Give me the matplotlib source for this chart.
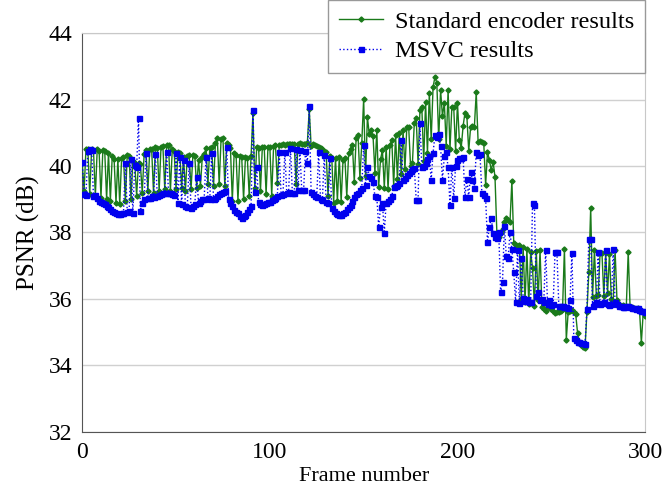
import matplotlib.pyplot as plt

plt.rcParams['font.family'] = ['Liberation Serif', 'DejaVu Serif']

# PSNR per frame (frames 0..300)
standard = [
    40.10, 39.25, 40.50, 40.52, 39.15, 40.50, 40.48, 39.10, 40.50, 40.45,
    39.05, 40.48, 40.45, 39.00, 40.40, 38.95, 40.30, 40.20, 38.90, 40.20,
    38.85, 40.25, 40.28, 38.95, 40.33, 40.30, 39.00, 40.15, 40.10, 39.10,
    40.10, 40.05, 39.20, 40.35, 40.48, 39.25, 40.50, 40.52, 39.20, 40.57,
    40.55, 39.25, 40.58, 40.60, 39.30, 40.62, 40.63, 39.25, 40.50, 40.45,
    39.30, 40.42, 40.40, 39.35, 40.27, 39.25, 40.30, 40.33, 39.30, 40.33,
    40.30, 39.35, 40.18, 39.40, 40.27, 40.35, 40.54, 39.45, 40.55, 40.57,
    39.40, 40.70, 40.84, 39.45, 40.80, 40.84, 39.40, 40.70, 40.63, 40.54,
    38.95, 40.40, 40.33, 38.95, 40.30, 40.27, 39.00, 40.27, 40.25, 39.10,
    40.30, 41.60, 39.35, 40.57, 40.55, 39.25, 40.57, 40.58, 39.15, 40.57,
    40.58, 39.10, 40.60, 40.62, 39.50, 40.62, 40.63, 40.65, 40.63, 40.65,
    40.66, 40.65, 40.67, 40.66, 39.45, 40.66, 40.68, 40.66, 40.67, 40.65,
    40.70, 41.70, 40.60, 40.65, 40.63, 40.60, 40.58, 40.54, 40.50, 40.45,
    40.42, 39.10, 40.30, 40.25, 38.90, 40.24, 38.95, 40.27, 38.92, 40.18,
    40.25, 39.07, 40.39, 40.50, 40.63, 39.52, 40.85, 40.93, 39.64, 40.69,
    42.02, 39.70, 41.47, 40.95, 41.08, 40.90, 39.80, 41.08, 39.37, 40.20,
    40.48, 39.35, 40.57, 39.30, 40.63, 40.78, 39.40, 40.93, 39.60, 41.00,
    39.75, 41.08, 39.90, 41.17, 41.17, 40.00, 40.10, 41.30, 41.44, 40.05,
    41.68, 41.77, 40.15, 41.92, 40.40, 42.20, 40.80, 42.38, 42.68, 42.50,
    40.80, 42.28, 41.50, 41.90, 40.60, 42.28, 40.50, 41.77, 41.77, 40.45,
    41.90, 40.78, 40.55, 41.20, 41.60, 41.50, 40.45, 41.17, 41.20, 41.17,
    42.22, 40.72, 40.75, 40.72, 40.70, 39.43, 40.42, 40.18, 39.88, 40.12,
    39.67, 37.98, 37.86, 37.98, 38.10, 38.30, 38.44, 38.38, 38.32, 39.55,
    37.68, 37.62, 37.60, 37.62, 36.00, 37.56, 35.90, 37.50, 35.85, 37.41,
    36.93, 35.80, 37.45, 35.97, 37.47, 35.75, 35.70, 35.65, 35.80, 35.76,
    35.70, 35.65, 35.58, 35.60, 35.62, 35.65, 35.70, 37.50, 34.77, 35.61,
    35.65, 35.68, 35.60, 35.55, 34.98, 34.70, 34.60, 34.56, 34.53, 35.61,
    36.80, 38.74, 36.06, 37.47, 36.10, 36.12, 37.38, 37.38, 36.10, 37.40,
    36.18, 37.35, 36.00, 35.95, 37.47, 35.97, 35.85, 35.80, 35.82, 35.78,
    35.80, 37.41, 35.76, 35.75, 35.72, 35.70, 35.72, 35.68, 34.68, 35.60,
    35.50,
]

msvc = [
    40.12, 39.15, 39.13, 40.45, 40.50, 40.48, 39.10, 39.13, 39.05, 38.95,
    38.92, 38.90, 38.85, 38.80, 38.78, 38.70, 38.65, 38.62, 38.58, 38.55,
    38.55, 38.58, 38.60, 40.10, 38.62, 38.65, 40.20, 38.60, 40.03, 39.97,
    41.44, 38.65, 38.90, 39.00, 40.39, 39.04, 39.05, 39.10, 39.08, 40.36,
    39.10, 39.13, 39.15, 39.18, 39.20, 40.42, 39.20, 39.18, 39.15, 39.13,
    40.39, 38.89, 40.27, 38.85, 40.18, 38.80, 38.78, 40.09, 38.75, 38.80,
    38.85, 39.67, 38.90, 38.95, 39.00, 39.02, 40.27, 39.04, 39.02, 40.39,
    39.00, 39.05, 39.10, 39.15, 39.20, 39.22, 39.25, 40.57, 39.00, 38.89,
    38.80, 38.68, 38.62, 38.59, 38.50, 38.44, 38.48, 38.53, 38.62, 38.70,
    38.80, 41.68, 39.22, 39.97, 38.92, 38.85, 38.83, 38.85, 38.88, 38.92,
    38.92, 38.98, 39.02, 39.04, 39.10, 40.42, 39.13, 39.15, 40.42, 39.20,
    39.22, 40.54, 39.20, 39.19, 40.50, 39.28, 40.48, 39.28, 39.28, 40.45,
    40.09, 41.80, 39.22, 39.15, 39.10, 39.07, 40.42, 39.02, 38.98, 40.33,
    38.92, 38.89, 40.24, 38.74, 38.65, 38.59, 38.55, 38.53, 38.53, 38.58,
    38.62, 38.70, 38.78, 38.83, 38.95, 39.07, 39.15, 39.20, 39.28, 39.35,
    40.63, 39.43, 39.97, 39.70, 39.64, 39.52, 39.10, 39.08, 38.17, 38.77,
    38.90, 37.98, 38.90, 38.95, 39.00, 39.10, 39.37, 39.40, 39.43, 39.50,
    40.78, 39.58, 39.65, 39.73, 39.79, 39.85, 39.90, 39.94, 38.98, 38.98,
    41.29, 39.97, 40.00, 40.10, 40.20, 40.30, 39.58, 40.40, 40.93, 40.87,
    40.96, 40.60, 39.58, 40.30, 40.42, 39.97, 38.83, 39.97, 39.04, 40.00,
    40.18, 40.24, 40.24, 40.27, 39.07, 39.60, 39.07, 39.82, 39.58, 39.34,
    40.42, 40.33, 40.35, 39.19, 39.13, 39.04, 37.71, 38.17, 38.44, 37.98,
    37.86, 37.83, 38.00, 36.20, 36.50, 38.20, 37.30, 37.23, 38.00, 37.50,
    36.80, 35.90, 37.47, 35.88, 37.23, 36.03, 35.95, 36.00, 35.92, 35.90,
    38.89, 38.83, 36.10, 36.20, 35.97, 36.00, 35.90, 37.47, 35.85, 35.97,
    35.82, 35.85, 37.41, 37.41, 35.80, 35.78, 35.80, 35.75, 35.76, 35.72,
    35.97, 37.38, 34.83, 34.75, 34.71, 34.70, 34.68, 34.68, 34.65, 35.70,
    37.81, 37.81, 35.80, 35.85, 35.90, 37.41, 35.85, 35.88, 35.90, 37.47,
    35.85, 35.82, 35.85, 37.50, 35.90, 35.85, 35.80, 35.78, 35.76, 35.75,
    35.78, 35.80, 35.76, 35.72, 35.74, 35.70, 35.72, 35.68, 35.65, 35.65,
    35.60,
]

frames = list(range(len(standard)))

fig = plt.figure(figsize=(6.63, 4.93), dpi=100)
ax = fig.add_axes([0.124, 0.124, 0.849, 0.809])

ax.plot(frames, standard, color='#1a7a1a', lw=1.0, marker='D', ms=2.6,
        label='Standard encoder results', zorder=3)
ax.plot(frames, msvc, color='#0000ee', lw=1.0, ls=':', marker='s', ms=3.6,
        label='MSVC results', zorder=4)

ax.set_xlim(0, 300)
ax.set_ylim(32, 44)
ax.set_xticks([0, 100, 200, 300])
ax.set_yticks([32, 34, 36, 38, 40, 42, 44])
ax.yaxis.grid(True, color='#d0d0d0', lw=1.0)
ax.set_axisbelow(True)
ax.tick_params(labelsize=17, length=0, pad=7)
for side in ['top', 'right']:
    ax.spines[side].set_color('#c8c8c8')
for side in ['left', 'bottom']:
    ax.spines[side].set_color('#555555')

ax.set_xlabel('Frame number', fontsize=16, labelpad=3)
ax.set_ylabel('PSNR (dB)', fontsize=18, labelpad=6)

leg = fig.legend(loc='upper right', bbox_to_anchor=(0.973, 1.0), fontsize=17.5,
                 fancybox=False, edgecolor='#999999', framealpha=1,
                 borderaxespad=0, handlelength=1.8, handletextpad=0.5,
                 labelspacing=0.3, borderpad=0.45)
leg.get_frame().set_linewidth(1.0)

fig.savefig('out.png', dpi=100)
